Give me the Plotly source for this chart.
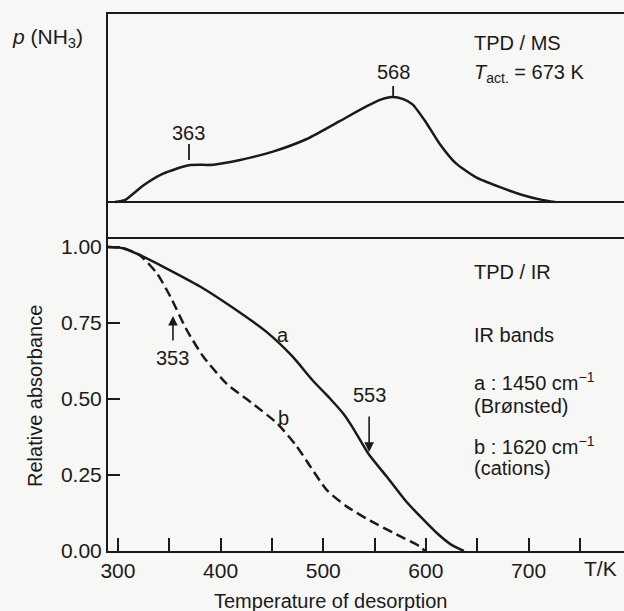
import plotly.graph_objects as go

# ---------------- data ----------------
# Top panel: TPD / MS, p(NH3) in arbitrary units
T_ms = [297, 307, 325, 344, 369, 393, 419, 451, 484, 516, 542, 556, 567,
        578, 587, 600, 613, 629, 648, 671, 694, 713, 726]
p_ms = [0.0, 0.02, 0.16, 0.27, 0.35, 0.355, 0.40, 0.48, 0.60, 0.77, 0.91, 0.975, 1.0,
        0.98, 0.93, 0.76, 0.56, 0.37, 0.24, 0.146, 0.067, 0.02, 0.0]

# Bottom panel: TPD / IR, relative absorbance
T_a = [290.3, 305, 321, 347, 380, 412, 445, 470, 490, 507, 520, 528, 544,
       562, 581, 600, 612, 625, 637]
A_a = [1.0, 0.996, 0.974, 0.93, 0.87, 0.80, 0.72, 0.64, 0.56, 0.50, 0.45, 0.41, 0.32,
       0.244, 0.162, 0.095, 0.055, 0.02, 0.0]

T_b = [290.3, 305, 321, 338, 351, 367, 383, 406, 430, 455, 474, 487, 503.5,
       523, 545.7, 571, 594, 599]
A_b = [1.0, 0.996, 0.974, 0.913, 0.837, 0.727, 0.64, 0.55, 0.488, 0.42, 0.345, 0.28, 0.20,
       0.146, 0.10, 0.055, 0.015, 0.0]

x_tickvals = [300, 350, 400, 450, 500, 550, 600, 650, 700, 750]
x_ticktext = ["300", "", "400", "", "500", "", "600", "", "700", ""]
y_tickvals = [0, 0.25, 0.5, 0.75, 1.0]
y_ticktext = ["0.00", "0.25", "0.50", "0.75", "1.00"]

# peak markers (temperature label, position)
ms_peaks = [("363", 369.2), ("568", 568.1)]

FONT = "Liberation Sans, Arial, Helvetica, sans-serif"
INK = "#1a1a1a"
BG = "#f7f7f5"
FS = 20
TFS = 21

W, H = 624, 611
ML, MR, MT, MB = 108, 0, 14, 60
PH = H - MT - MB
split = 314 / PH

fig = go.Figure()

fig.add_trace(go.Scatter(x=T_ms, y=p_ms, mode="lines", xaxis="x2", yaxis="y2",
                         line=dict(color=INK, width=2.5, shape="spline", smoothing=0.6),
                         showlegend=False, hoverinfo="skip"))
fig.add_trace(go.Scatter(x=T_b, y=A_b, mode="lines",
                         line=dict(color=INK, width=2.5, dash="10px,5px", shape="spline", smoothing=0.6),
                         showlegend=False, hoverinfo="skip"))
fig.add_trace(go.Scatter(x=T_a, y=A_a, mode="lines",
                         line=dict(color=INK, width=2.5, shape="spline", smoothing=0.6),
                         showlegend=False, hoverinfo="skip"))

xr = [290.3, 793]
fig.update_layout(
    width=W, height=H,
    margin=dict(l=ML, r=MR, t=MT, b=MB),
    paper_bgcolor=BG, plot_bgcolor=BG,
    font=dict(family=FONT, size=FS, color=INK),
    xaxis=dict(range=xr, domain=[0, 1], anchor="y", showline=True, linecolor=INK, linewidth=2,
               mirror=False, ticks="inside", ticklen=13, tickwidth=1.6, tickcolor=INK,
               tickvals=x_tickvals, ticktext=x_ticktext, showgrid=False, zeroline=False,
               tickfont=dict(size=TFS)),
    yaxis=dict(range=[0, 314 / 304], domain=[0, split], anchor="x", showline=True, linecolor=INK,
               linewidth=2, ticks="inside", ticklen=12, tickwidth=1.6, tickcolor=INK,
               tickvals=y_tickvals, ticktext=y_ticktext, showgrid=False, zeroline=False,
               tickfont=dict(size=TFS)),
    xaxis2=dict(range=xr, domain=[0, 1], anchor="y2", matches="x", showline=True, linecolor=INK,
                linewidth=2, mirror=True, ticks="", showticklabels=False, showgrid=False,
                zeroline=False),
    yaxis2=dict(range=[-35 / 105, 188 / 105], domain=[split, 1], anchor="x2", showline=True,
                linecolor=INK, linewidth=2, ticks="", showticklabels=False, showgrid=False,
                zeroline=True, zerolinecolor=INK, zerolinewidth=2),
)

ann = []
def txt(x, y, text, xref="paper", yref="paper", xanchor="left", yanchor="middle", size=FS, **kw):
    ann.append(dict(x=x, y=y, xref=xref, yref=yref, text=text, showarrow=False,
                    xanchor=xanchor, yanchor=yanchor, font=dict(family=FONT, size=size, color=INK), **kw))

def px(xp):
    return (xp - ML) / (W - ML - MR)

def py(yp):
    return (H - MB - yp) / PH

# top panel texts
txt(px(10), py(38), "<i>p</i> (NH<sub>3</sub>)", size=21)
txt(px(472), py(43), "TPD / MS")
txt(px(472), py(73), "<i>T</i><sub>act.</sub> = 673 K")

# top-panel peak labels and their small tick marks
txt(ms_peaks[0][1], 0.657, ms_peaks[0][0], xref="x2", yref="y2", xanchor="center")
txt(ms_peaks[1][1], 1.238, ms_peaks[1][0], xref="x2", yref="y2", xanchor="center")
fig.add_shape(type="line", xref="x2", yref="y2", x0=ms_peaks[0][1], x1=ms_peaks[0][1],
              y0=0.40, y1=0.552, line=dict(color=INK, width=1.8))
fig.add_shape(type="line", xref="x2", yref="y2", x0=ms_peaks[1][1], x1=ms_peaks[1][1],
              y0=1.0, y1=1.105, line=dict(color=INK, width=1.8))

# bottom panel texts
txt(px(472), py(272), "TPD / IR")
txt(px(472), py(335), "IR bands")
txt(px(472), py(382), "a : 1450 cm<sup>−1</sup>")
txt(px(472), py(406), "(Brønsted)")
txt(px(472), py(445), "b : 1620 cm<sup>−1</sup>")
txt(px(472), py(468), "(cations)")

txt(460.9, 0.711, "a", xref="x", yref="y", xanchor="center")
txt(460.9, 0.4375, "b", xref="x", yref="y", xanchor="center")
txt(353.6, 0.635, "353", xref="x", yref="y", xanchor="center")
txt(544.7, 0.513, "553", xref="x", yref="y", xanchor="center")

# arrows
ann.append(dict(x=353.6, y=0.773, xref="x", yref="y", ax=0, ay=26, text="", showarrow=True,
                arrowhead=2, arrowsize=1.2, arrowwidth=1.6, arrowcolor=INK))
ann.append(dict(x=544.7, y=0.326, xref="x", yref="y", ax=0, ay=-37, text="", showarrow=True,
                arrowhead=2, arrowsize=1.2, arrowwidth=1.6, arrowcolor=INK))

# axis titles
txt(px(35), py(396), "Relative absorbance", xanchor="center", textangle=-90)
txt(px(330), py(601), "Temperature of desorption", xanchor="center")
txt(px(600), py(568), "T/K", xanchor="center", size=TFS)

fig.update_layout(annotations=ann)
fig.write_html("out.html", config={"displayModeBar": False},
               post_script="document.body.style.margin='0';document.body.style.overflow='hidden';")
